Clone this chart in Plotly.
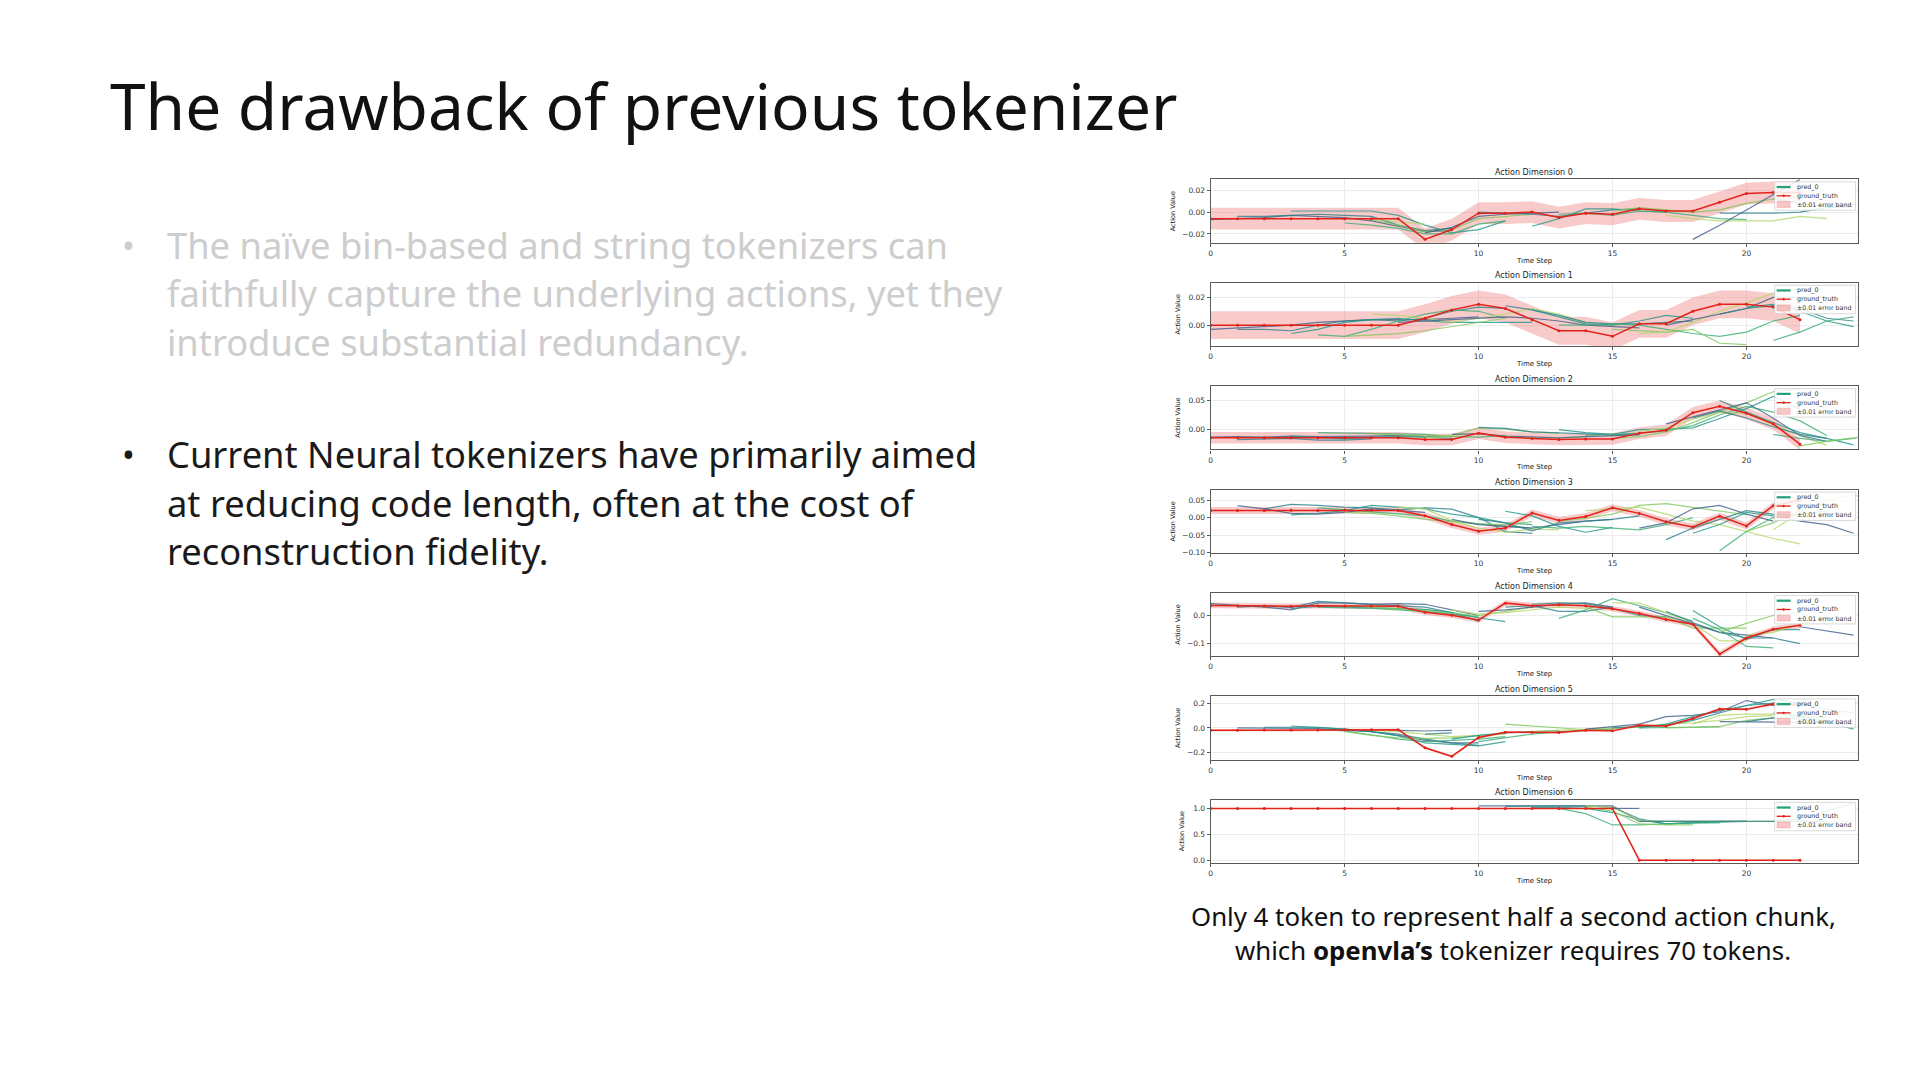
import plotly.graph_objects as go

W, H = 1920, 1080

# ---------------- data ----------------
time_steps = list(range(23))

gt_dim0 = [-0.006, -0.006, -0.006, -0.006, -0.006, -0.006, -0.006, -0.006, -0.025, -0.016, -0.001, -0.001,
           0.000, -0.005, -0.001, -0.002, 0.003, 0.001, 0.001, 0.009, 0.017, 0.018, 0.018]
gt_dim1 = [0.0, 0.0, 0.0, 0.0, 0.0, 0.0, 0.0, 0.0, 0.005, 0.011, 0.015, 0.012, 0.004, -0.004, -0.004, -0.008,
           0.001, 0.001, 0.010, 0.015, 0.015, 0.013, 0.004]
gt_dim2 = [-0.014, -0.014, -0.014, -0.014, -0.014, -0.014, -0.014, -0.014, -0.017, -0.017, -0.006, -0.013,
           -0.015, -0.017, -0.016, -0.016, -0.006, -0.001, 0.029, 0.040, 0.028, 0.010, -0.025]
gt_dim3 = [0.020, 0.020, 0.020, 0.021, 0.020, 0.022, 0.022, 0.020, 0.005, -0.020, -0.039, -0.030, 0.013,
           -0.008, 0.003, 0.028, 0.012, -0.012, -0.027, 0.004, -0.024, 0.034, 0.050]
gt_dim4 = [0.036, 0.035, 0.034, 0.033, 0.035, 0.034, 0.034, 0.033, 0.012, 0.001, -0.016, 0.044, 0.035,
           0.038, 0.035, 0.024, 0.007, -0.014, -0.031, -0.137, -0.080, -0.049, -0.035]
gt_dim5 = [-0.020, -0.019, -0.018, -0.017, -0.017, -0.016, -0.015, -0.015, -0.160, -0.229, -0.077, -0.035,
           -0.035, -0.037, -0.019, -0.024, 0.021, 0.016, 0.075, 0.152, 0.149, 0.192, 0.190]
gt_dim6 = [1.0, 1.0, 1.0, 1.0, 1.0, 1.0, 1.0, 1.0, 1.0, 1.0, 1.0, 1.0, 1.0, 1.0, 1.0, 1.0,
           0.0, 0.0, 0.0, 0.0, 0.0, 0.0, 0.0]

# predicted chunks: (start time step, values)
pred_dim0 = [
    (0, [-0.007, -0.006, -0.005, -0.003, -0.004, -0.005, -0.008, -0.013, -0.018, -0.017]),
    (1, [-0.004, -0.004, -0.003, -0.002, -0.003, -0.004, -0.012, -0.017, -0.015]),
    (3, [0.001, 0.001, 0.001, 0.001, -0.003, -0.012, -0.019, -0.016, -0.008]),
    (5, [-0.010, -0.012, -0.015, -0.020, -0.020, -0.011, -0.008]),
    (6, [-0.007, -0.012, -0.018, -0.016, -0.006, -0.004, -0.002]),
    (6, [-0.006, -0.009, -0.011]),
    (8, [-0.019, -0.014, -0.004, -0.002, -0.001, 0.000]),
    (10, [0.000, -0.001, -0.002, -0.004, -0.001, 0.002, 0.003]),
    (12, [-0.013, -0.006, 0.003, 0.003, 0.001, 0.000]),
    (13, [-0.002, -0.001, -0.003, 0.001, 0.000, -0.003, -0.006, -0.007]),
    (15, [0.001, 0.004, 0.002, 0.000, 0.002, 0.008, 0.012, 0.014]),
    (17, [-0.003, -0.006, -0.008, -0.008, -0.008, -0.004, -0.006]),
    (18, [-0.025, -0.012, 0.002, 0.016, 0.030]),
    (19, [-0.001, -0.001, -0.001, 0.000, 0.004, 0.005]),
    (21, [0.012, 0.008, 0.005, 0.007]),
]
pred_dim1 = [
    (0, [-0.003, -0.002, -0.001, 0.000, 0.002, 0.003, 0.004, 0.004, 0.004, 0.005, 0.006]),
    (1, [-0.003, -0.003, -0.004, 0.000, 0.003, 0.004, 0.003, 0.005, 0.010, 0.013, 0.012]),
    (3, [-0.006, -0.003, 0.002, 0.004, 0.005, 0.003, 0.002, 0.002, 0.002, 0.002]),
    (4, [-0.007, -0.008, -0.003, 0.003, 0.008, 0.011, 0.010, 0.005]),
    (5, [-0.008, -0.007, -0.006, -0.004, -0.001, 0.002, 0.005]),
    (6, [0.008, 0.007, 0.005, 0.002, 0.005, 0.008, 0.012, 0.008, 0.002]),
    (7, [0.002, 0.003, 0.004, 0.005, 0.006, 0.005, 0.003, 0.000, -0.001, -0.002]),
    (11, [0.014, 0.011, 0.007, 0.002, 0.001, 0.001, 0.002, 0.003]),
    (12, [0.011, 0.006, 0.001, 0.000, 0.003, 0.007, 0.005]),
    (13, [0.000, 0.000, 0.001, 0.000, -0.003, -0.006, -0.008, -0.005, 0.003, 0.007]),
    (15, [-0.003, -0.004, -0.005, -0.003, -0.013, -0.014]),
    (16, [-0.006, -0.005, 0.002, 0.010, 0.016, 0.023, 0.026]),
    (17, [0.000, 0.004, 0.008, 0.012, 0.020, 0.020, 0.020]),
    (19, [0.008, 0.012, 0.014, 0.012, 0.005, 0.003]),
    (20, [0.013, 0.015, 0.010, 0.003, -0.001]),
    (21, [-0.011, -0.005, 0.003, 0.006]),
]
pred_dim2 = [
    (0, [-0.013, -0.012, -0.013, -0.011, -0.012, -0.012, -0.011, -0.010, -0.012, -0.011]),
    (1, [-0.017, -0.016, -0.015, -0.018, -0.018, -0.016]),
    (3, [-0.011, -0.014, -0.016, -0.013, -0.012, -0.013, -0.015]),
    (4, [-0.005, -0.006, -0.007, -0.007, -0.008, -0.012, -0.013, -0.010]),
    (6, [-0.007, -0.009, -0.011, -0.010, 0.003, 0.001, -0.004, -0.006]),
    (8, [-0.014, -0.010, -0.007, -0.011, -0.014, -0.014, -0.012]),
    (9, [-0.008, -0.007, -0.011, -0.013, -0.014, -0.012, -0.011, -0.009]),
    (10, [0.004, 0.002, -0.004, -0.006, -0.008, -0.009, -0.008]),
    (13, [0.000, -0.005, -0.008, 0.000, 0.001, 0.003, 0.019, 0.036, 0.057, 0.035]),
    (14, [-0.010, -0.008, -0.006, -0.002, 0.007, 0.025, 0.040, 0.030, 0.015, -0.010]),
    (15, [-0.015, -0.012, -0.004, 0.012, 0.030, 0.046, 0.065, 0.070]),
    (16, [-0.003, 0.003, 0.018, 0.029, 0.028, 0.008, -0.010, -0.027]),
    (17, [0.010, 0.022, 0.034, 0.046, 0.020, -0.010, -0.020]),
    (18, [0.020, 0.032, 0.020, 0.005, -0.008, -0.015]),
    (19, [0.050, 0.030, 0.012, -0.005, -0.015, -0.026]),
    (21, [-0.008, -0.015, -0.020, -0.015, -0.001]),
    (22, [-0.028, -0.020, -0.014]),
]
pred_dim3 = [
    (1, [0.034, 0.025, 0.012, 0.010, 0.015, 0.025, 0.020, 0.015]),
    (2, [0.025, 0.038, 0.035, 0.030, 0.028, 0.022, 0.028, 0.024, 0.000, -0.040, -0.045]),
    (3, [0.008, 0.012, 0.020, 0.035, 0.030, 0.025, 0.010, 0.000, -0.015, -0.020]),
    (4, [0.028, 0.022, 0.018, 0.012, 0.005, -0.010, -0.018, -0.025, -0.030]),
    (5, [0.015, 0.012, 0.005, -0.005, -0.012, -0.018, -0.020, -0.012]),
    (7, [0.030, 0.025, -0.008, -0.030, -0.042, -0.033, -0.035]),
    (9, [-0.005, -0.020, -0.025, -0.030, -0.020, -0.010, -0.005]),
    (10, [-0.005, -0.015, -0.038, -0.015, -0.010, -0.005, 0.005]),
    (11, [0.018, 0.005, -0.025, -0.042, -0.028]),
    (12, [-0.025, -0.030, -0.025, -0.030, -0.035, -0.020, 0.000]),
    (13, [-0.010, -0.002, 0.010, 0.035, 0.040, 0.030, 0.020, 0.008]),
    (14, [0.020, 0.025, 0.030, 0.010, -0.010, -0.020, -0.040, -0.060, -0.075]),
    (16, [-0.030, -0.015, 0.025, 0.035, 0.010, -0.010]),
    (17, [-0.063, -0.030, -0.005, 0.020, 0.010, 0.005]),
    (18, [-0.045, -0.020, 0.015, 0.005, -0.010]),
    (19, [-0.095, -0.040, 0.000, 0.010, 0.020]),
    (20, [-0.040, -0.015, 0.020, 0.040]),
    (21, [-0.035, 0.015, 0.050, 0.065, 0.045]),
    (22, [-0.010, -0.020, -0.045]),
]
pred_dim4 = [
    (0, [0.042, 0.036, 0.030, 0.020, 0.045, 0.045, 0.040, 0.042, 0.040, 0.020, 0.000]),
    (1, [0.030, 0.035, 0.028, 0.050, 0.045, 0.040, 0.035, 0.030, 0.010, -0.020]),
    (3, [0.025, 0.032, 0.030, 0.028, 0.025, 0.022, 0.010, -0.008, -0.022]),
    (4, [0.030, 0.028, 0.025, 0.020, 0.015, 0.005, -0.005]),
    (5, [0.035, 0.030, 0.025, 0.018, 0.008, 0.000, 0.015, 0.030]),
    (9, [0.020, 0.005, 0.010, 0.020, 0.030, 0.025]),
    (10, [0.015, 0.020, 0.030, 0.040, 0.045, 0.030]),
    (11, [0.030, 0.035, 0.015, 0.015, 0.030]),
    (12, [0.040, 0.045, 0.042, 0.025, 0.000, -0.005]),
    (13, [-0.010, 0.020, 0.060, 0.035, 0.010, -0.020]),
    (14, [0.030, -0.005, -0.005, -0.005, -0.045, -0.045, -0.045]),
    (15, [0.045, 0.045, 0.010, -0.030, -0.090, -0.090]),
    (16, [0.030, 0.000, -0.030, -0.060, -0.070, -0.080]),
    (17, [0.015, -0.025, -0.060, -0.080, -0.080, -0.100]),
    (18, [0.018, -0.040, -0.085, -0.050, -0.050]),
    (18, [-0.010, -0.050, -0.110, -0.115]),
    (19, [-0.060, -0.028, 0.000, 0.010, -0.030]),
    (20, [-0.070, -0.060, -0.030, -0.010, -0.030]),
    (22, [-0.040, -0.055, -0.070]),
]
pred_dim5 = [
    (1, [0.000, 0.000, 0.000, -0.005, -0.020, -0.030, -0.060, -0.100, -0.120, -0.120]),
    (2, [0.005, 0.005, 0.005, -0.010, -0.030, -0.050, -0.090, -0.120, -0.140]),
    (3, [0.015, 0.005, -0.010, -0.030, -0.065, -0.120, -0.130, -0.145, -0.110]),
    (4, [-0.010, -0.025, -0.055, -0.090, -0.110, -0.100, -0.090, -0.070]),
    (5, [-0.030, -0.060, -0.080, -0.085, -0.080, -0.060, -0.045]),
    (6, [-0.020, -0.030, -0.050, -0.070, -0.060, -0.050]),
    (7, [-0.020, -0.025, -0.020]),
    (8, [-0.050, -0.040]),
    (9, [-0.090, -0.060, -0.040, -0.030, -0.020]),
    (10, [-0.110, -0.080, -0.050, -0.030, -0.020, -0.010]),
    (11, [0.030, 0.015, 0.000, -0.015, -0.005, 0.005]),
    (12, [-0.030, -0.020, -0.005, 0.005, 0.010, 0.030, 0.040, 0.060, 0.090, 0.100]),
    (14, [-0.010, 0.010, 0.030, 0.090, 0.100, 0.130, 0.220, 0.180, 0.180]),
    (15, [0.000, 0.010, 0.020, 0.060, 0.120, 0.180, 0.200, 0.200]),
    (16, [0.000, 0.030, 0.090, 0.140, 0.180, 0.230, 0.200, 0.150, 0.120]),
    (16, [0.000, 0.000, 0.005, 0.010]),
    (17, [0.000, 0.005, 0.010, 0.060, 0.080, 0.090, 0.080]),
    (18, [0.030, 0.100, 0.110, 0.110, 0.100, 0.090]),
    (19, [0.050, 0.050, 0.050, 0.045, 0.040, 0.030]),
    (20, [0.050, 0.080, 0.070, 0.040, 0.030]),
    (21, [0.120, 0.090, 0.050, -0.010]),
]
pred_dim6 = [
    (10, [1.05, 1.05, 1.05, 1.05, 1.05, 1.05, 0.75, 0.75, 0.75, 0.75, 0.75]),
    (11, [1.04, 1.04, 1.04, 1.05, 1.02, 0.80, 0.70, 0.72, 0.75, 0.75]),
    (12, [1.02, 1.02, 1.00, 0.92, 0.78, 0.70, 0.72, 0.73, 0.75]),
    (13, [1.00, 0.90, 0.68, 0.68, 0.70, 0.72, 0.72]),
    (14, [1.02, 0.95, 0.70, 0.68, 0.68]),
    (14, [1.05, 1.02, 0.77, 0.75, 0.75, 0.75, 0.75, 0.75, 0.75, 0.75, 0.75]),
    (15, [1.00, 1.00]),
    (16, [0.75, 0.75, 0.75, 0.75, 0.75, 0.75, 0.75, 0.75]),
    (21, [0.75, 0.80, 0.95, 1.10]),
]

gt_list = [gt_dim0, gt_dim1, gt_dim2, gt_dim3, gt_dim4, gt_dim5, gt_dim6]
pred_list = [pred_dim0, pred_dim1, pred_dim2, pred_dim3, pred_dim4, pred_dim5, pred_dim6]
error_band = 0.01

y_ranges = [[-0.028, 0.030], [-0.015, 0.0305], [-0.034, 0.0745], [-0.101, 0.080],
            [-0.145, 0.080], [-0.256, 0.253], [-0.057, 1.165]]
y_ticks = [[-0.02, 0.0, 0.02], [0.0, 0.02], [0.0, 0.05], [-0.10, -0.05, 0.0, 0.05],
           [-0.1, 0.0], [-0.2, 0.0, 0.2], [0.0, 0.5, 1.0]]
y_formats = [".2f", ".2f", ".2f", ".2f", ".1f", ".1f", ".1f"]
x_ticks = [0, 5, 10, 15, 20]
x_range = [0, 24.15]

title_text = "The drawback of previous tokenizer"
bullet1_lines = ["The naïve bin-based and string tokenizers can",
                 "faithfully capture the underlying actions, yet they",
                 "introduce substantial redundancy."]
bullet2_lines = ["Current Neural tokenizers have primarily aimed",
                 "at reducing code length, often at the cost of",
                 "reconstruction fidelity."]
caption_lines = ["Only 4 token to represent half a second action chunk,",
                 "which <b>openvla’s</b> tokenizer requires 70 tokens."]

# ---------------- styling ----------------
palette = ["#3e5f8a", "#2a7f8c", "#1f978a", "#3bae74", "#7fc95c", "#b5d86a"]
gt_color = "#e2231a"
band_color = "rgba(240,128,128,0.42)"
pred0_color = "#23a07e"
axis_font = "DejaVu Sans"
slide_font = "Noto Sans"


def fx(p):
    return p / W


def fy(p):
    return 1 - p / H


AX_L, AX_R = 1202.0, 1849.5
TOP0, STEP, AX_H = 172.0, 103.8, 63.5

fig = go.Figure()
layout = dict(
    width=W, height=H, margin=dict(l=0, r=0, t=0, b=0),
    paper_bgcolor="white", plot_bgcolor="white", showlegend=False,
)
annotations = []
shapes = []

for k in range(7):
    ax = "" if k == 0 else str(k + 1)
    xa, ya = "x" + ax, "y" + ax
    gt = gt_list[k]
    top = TOP0 + STEP * k
    bot = top + AX_H

    # error band
    upper = [v + error_band for v in gt]
    lower = [v - error_band for v in gt]
    fig.add_trace(go.Scatter(
        x=time_steps + time_steps[::-1], y=upper + lower[::-1],
        fill="toself", fillcolor=band_color, line=dict(width=0),
        mode="lines", xaxis=xa, yaxis=ya, hoverinfo="skip"))

    # predicted chunks
    for i, (start, vals) in enumerate(pred_list[k]):
        fig.add_trace(go.Scatter(
            x=list(range(start, start + len(vals))), y=vals, mode="lines",
            line=dict(color=palette[i % len(palette)], width=1.2), opacity=0.8,
            xaxis=xa, yaxis=ya))

    # ground truth
    fig.add_trace(go.Scatter(
        x=time_steps, y=gt, mode="lines+markers",
        line=dict(color=gt_color, width=1.5), marker=dict(size=3, color=gt_color),
        xaxis=xa, yaxis=ya))

    common = dict(showline=True, mirror=True, linecolor="#5a5a5a", linewidth=1.3,
                  ticks="outside", ticklen=3, tickwidth=0.8, tickcolor="#5a5a5a",
                  showgrid=True, gridcolor="#ececec", gridwidth=0.8, zeroline=False,
                  tickfont=dict(family=axis_font, size=7.5, color="#333"))
    layout["xaxis" + ax] = dict(common, domain=[fx(AX_L), fx(AX_R)], range=x_range,
                                tickvals=x_ticks, anchor=ya)
    layout["yaxis" + ax] = dict(common, domain=[fy(bot), fy(top)], range=y_ranges[k],
                                tickvals=y_ticks[k], tickformat=y_formats[k], anchor=xa)

    # subplot title, axis titles
    annotations.append(dict(text=f"Action Dimension {k}", x=fx((AX_L + AX_R) / 2), y=fy(top - 7),
                            xref="paper", yref="paper", showarrow=False, xanchor="center",
                            yanchor="middle", font=dict(family=axis_font, size=8, color="#222")))
    annotations.append(dict(text="Time Step", x=fx((AX_L + AX_R) / 2), y=fy(bot + 18),
                            xref="paper", yref="paper", showarrow=False, xanchor="center",
                            yanchor="middle", font=dict(family=axis_font, size=7, color="#222")))
    nchar = max(len(format(v, y_formats[k])) for v in y_ticks[k])
    annotations.append(dict(text="Action Value", x=fx(AX_L - 14 - 4.7 * nchar), y=fy((top + bot) / 2),
                            xref="paper", yref="paper", showarrow=False, textangle=-90,
                            xanchor="center", yanchor="middle",
                            font=dict(family=axis_font, size=6.5, color="#222")))

    # legend box (drawn)
    lx0, lx1 = AX_R - 83, AX_R - 2
    hx0, hx1 = AX_R - 81, AX_R - 67
    rows = [top + 7.7, top + 16.5, top + 25.2]
    shapes.append(dict(type="rect", xref="paper", yref="paper", layer="above",
                       x0=fx(lx0), x1=fx(lx1), y0=fy(top + 31), y1=fy(top + 2.5),
                       fillcolor="rgba(255,255,255,0.85)", line=dict(color="#d0d0d0", width=0.8)))
    shapes.append(dict(type="line", xref="paper", yref="paper", layer="above",
                       x0=fx(hx0), x1=fx(hx1), y0=fy(rows[0]), y1=fy(rows[0]),
                       line=dict(color=pred0_color, width=2.2)))
    shapes.append(dict(type="line", xref="paper", yref="paper", layer="above",
                       x0=fx(hx0), x1=fx(hx1), y0=fy(rows[1]), y1=fy(rows[1]),
                       line=dict(color=gt_color, width=1.3)))
    hc = (hx0 + hx1) / 2
    shapes.append(dict(type="circle", xref="paper", yref="paper", layer="above",
                       x0=fx(hc - 1.2), x1=fx(hc + 1.2), y0=fy(rows[1] + 1.2), y1=fy(rows[1] - 1.2),
                       fillcolor=gt_color, line=dict(width=0)))
    shapes.append(dict(type="rect", xref="paper", yref="paper", layer="above",
                       x0=fx(hx0 + 0.5), x1=fx(hx1 - 0.5), y0=fy(rows[2] + 3), y1=fy(rows[2] - 3),
                       fillcolor="rgba(240,128,128,0.45)", line=dict(color="rgba(240,128,128,0.6)", width=0.6)))
    for r, label in zip(rows, ["pred_0", "ground_truth", "±0.01 error band"]):
        annotations.append(dict(text=label, x=fx(hx1 + 4), y=fy(r), xref="paper", yref="paper",
                                showarrow=False, xanchor="left", yanchor="middle",
                                font=dict(family=axis_font, size=6.3, color="#333")))

# ---------------- slide text ----------------
annotations.append(dict(text=title_text, x=fx(98), y=fy(98), xref="paper", yref="paper",
                        showarrow=False, xanchor="left", yanchor="middle",
                        font=dict(family=slide_font, size=64, color="#111")))

for lines, y0, col in [(bullet1_lines, 238, "#cdcdcd"), (bullet2_lines, 448, "#1a1a1a")]:
    annotations.append(dict(text="•", x=fx(110), y=fy(y0), xref="paper", yref="paper",
                            showarrow=False, xanchor="left", yanchor="middle",
                            font=dict(family=slide_font, size=34, color=col)))
    for j, line in enumerate(lines):
        annotations.append(dict(text=line, x=fx(155), y=fy(y0 + 48.5 * j), xref="paper", yref="paper",
                                showarrow=False, xanchor="left", yanchor="middle",
                                font=dict(family=slide_font, size=36.3, color=col)))

for j, line in enumerate(caption_lines):
    annotations.append(dict(text=line, x=fx(1505), y=fy(911 + 34 * j), xref="paper", yref="paper",
                            showarrow=False, xanchor="center", yanchor="middle",
                            font=dict(family=slide_font, size=25.8, color="#111")))

layout["annotations"] = annotations
layout["shapes"] = shapes
fig.update_layout(**layout)
fig.write_html("out.html")
